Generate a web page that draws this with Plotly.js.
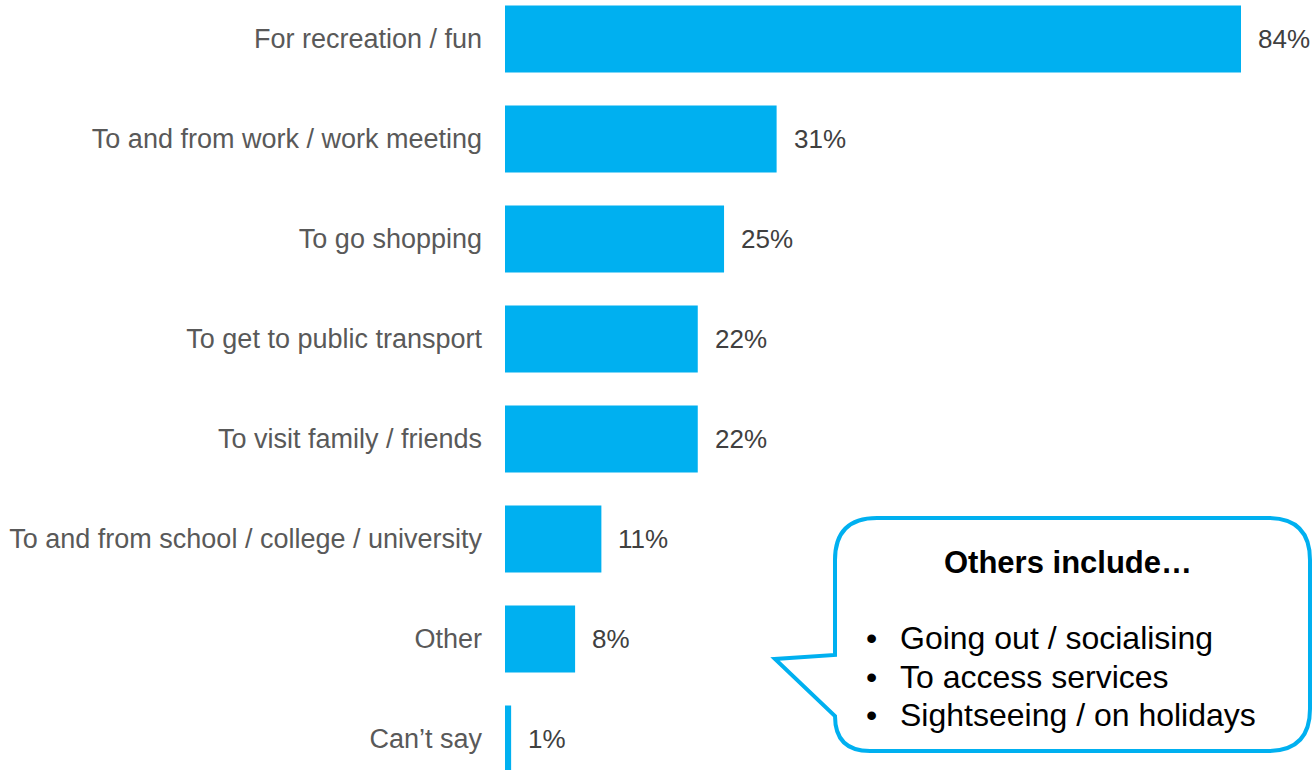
<!DOCTYPE html>
<html>
<head>
<meta charset="utf-8">
<script src="https://cdn.plot.ly/plotly-3.0.1.min.js"></script>
<style>html,body{margin:0;padding:0;background:#fff;}#chart{width:1312px;height:770px;}</style>
</head>
<body>
<div id="chart"></div>
<script>
const categories = [
  "For recreation / fun",
  "To and from work / work meeting",
  "To go shopping",
  "To get to public transport",
  "To visit family / friends",
  "To and from school / college / university",
  "Other",
  "Can\u2019t say"
];
const values = [84, 31, 25, 22, 22, 11, 8, 0.7];
const valueLabels = ["84%", "31%", "25%", "22%", "22%", "11%", "8%", "1%"];
const calloutTitle = "Others include\u2026";
const otherItems = ["Going out / socialising", "To access services", "Sightseeing / on holidays"];

const W = 1312, H = 770, ML = 505;
const FONT = "Arial, 'Liberation Sans', sans-serif";
const CYAN = "#00B0F0";

// helpers for decoration placement (pixel -> paper)
const pw = W - ML;
const fx = x => (x - ML) / pw;
const fy = y => 1 - y / H;
const P = (x, y) => fx(x).toFixed(5) + "," + fy(y).toFixed(5);

const trace = {
  type: "bar",
  orientation: "h",
  x: values,
  y: categories,
  marker: {color: CYAN},
  hoverinfo: "skip"
};

const annotations = values.map((v, i) => ({
  x: v, y: categories[i], xref: "x", yref: "y",
  text: valueLabels[i], showarrow: false,
  xanchor: "left", yanchor: "middle", xshift: 15,
  font: {family: FONT, size: 26, color: "#404040"}
}));

// callout text
annotations.push({
  xref: "paper", yref: "paper", x: fx(1068), y: fy(562),
  text: "<b>" + calloutTitle + "</b>", showarrow: false,
  xanchor: "center", yanchor: "middle",
  font: {family: FONT, size: 31, color: "#000000"}
});
const itemYs = [638, 677, 715];
otherItems.forEach((t, i) => {
  annotations.push({
    xref: "paper", yref: "paper", x: fx(864), y: fy(itemYs[i]),
    text: "\u2022", showarrow: false, xanchor: "left", yanchor: "middle",
    font: {family: FONT, size: 32, color: "#000000"}
  });
  annotations.push({
    xref: "paper", yref: "paper", x: fx(898), y: fy(itemYs[i]),
    text: t, showarrow: false, xanchor: "left", yanchor: "middle",
    font: {family: FONT, size: 32, color: "#000000"}
  });
});

// speech bubble path
const L = 835, R = 1310, T = 518, B = 751, r1 = 42, r2 = 35;
const path = "M" + P(L, T + r1) +
  " Q" + P(L, T) + " " + P(L + r1, T) +
  " L" + P(R - r1, T) +
  " Q" + P(R, T) + " " + P(R, T + r1) +
  " L" + P(R, B - r1) +
  " Q" + P(R, B) + " " + P(R - r1, B) +
  " L" + P(L + r2, B) +
  " Q" + P(L, B) + " " + P(L, B - r2) +
  " L" + P(775, 659) +
  " L" + P(L, 655) + " Z";

const layout = {
  width: W, height: H,
  margin: {l: ML, r: 0, t: 0, b: 0, pad: 0},
  paper_bgcolor: "#ffffff", plot_bgcolor: "#ffffff",
  showlegend: false,
  bargap: 0.33,
  xaxis: {range: [0, (W - ML) / ((1241 - ML) / 84)], visible: false, fixedrange: true},
  yaxis: {
    type: "category", categoryorder: "array", categoryarray: categories,
    range: [7.31, -0.39],
    showgrid: false, zeroline: false, showline: false, ticks: "",
    ticklabelstandoff: 22,
    tickfont: {family: FONT, size: 27, color: "#595959"},
    fixedrange: true
  },
  annotations: annotations,
  shapes: [{
    type: "path", xref: "paper", yref: "paper", path: path,
    line: {color: CYAN, width: 4}, fillcolor: "#ffffff", layer: "above"
  }]
};

Plotly.newPlot("chart", [trace], layout, {staticPlot: true, displayModeBar: false});
</script>
</body>
</html>
